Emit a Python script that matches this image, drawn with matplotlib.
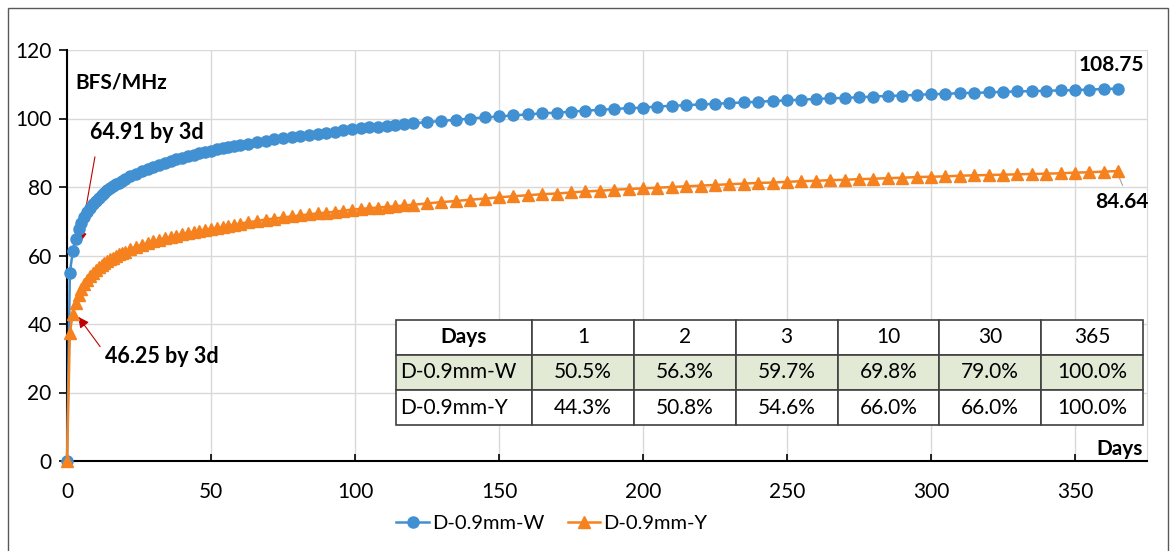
import matplotlib
matplotlib.use("Agg")
import matplotlib.pyplot as plt
from matplotlib.patches import Rectangle

plt.rcParams["font.family"] = ["Lato", "DejaVu Sans"]

# sampling days: daily to 20, every 2 to 60, every 3 to 120, every 5 to 365
days = list(range(0, 21)) + list(range(22, 61, 2)) + list(range(63, 121, 3)) + list(range(125, 366, 5))

bfs_w = [0, 55.0, 61.2, 64.9, 67.6, 69.6, 71.3, 72.7, 73.9, 75.0, 75.9,
         76.8, 77.6, 78.3, 79.0, 79.6, 80.2, 80.8, 81.3, 81.8, 82.3,
         83.1, 83.9, 84.6, 85.3, 85.9, 86.5, 87.1, 87.6, 88.1, 88.6,
         89.0, 89.4, 89.9, 90.2, 90.6, 91.0, 91.3, 91.6, 92.0, 92.3,
         92.7, 93.1, 93.5, 93.9, 94.3, 94.6, 95.0, 95.3, 95.6, 95.9,
         96.2, 96.5, 96.8, 97.1, 97.4, 97.6, 97.9, 98.1, 98.3, 98.6,
         98.95, 99.3, 99.6, 100.0, 100.3, 100.6, 100.9, 101.2, 101.5, 101.7,
         102.0, 102.3, 102.5, 102.8, 103.0, 103.2, 103.5, 103.7, 103.9, 104.1,
         104.3, 104.5, 104.7, 104.9, 105.1, 105.3, 105.5, 105.7, 105.9, 106.0,
         106.2, 106.4, 106.6, 106.7, 106.9, 107.1, 107.2, 107.4, 107.5, 107.6,
         107.8, 107.9, 108.0, 108.1, 108.2, 108.3, 108.45, 108.6, 108.75]

bfs_y = [0, 37.5, 43.0, 46.25, 48.5, 50.3, 51.7, 52.9, 53.9, 54.9, 55.7,
         56.5, 57.2, 57.8, 58.4, 58.9, 59.4, 59.9, 60.3, 60.7, 61.1,
         61.8, 62.5, 63.1, 63.6, 64.1, 64.6, 65.0, 65.4, 65.8, 66.2,
         66.5, 66.9, 67.2, 67.5, 67.8, 68.1, 68.3, 68.6, 68.9, 69.3,
         69.7, 70.1, 70.5, 70.8, 71.1, 71.4, 71.7, 72.0, 72.3, 72.5,
         72.8, 73.1, 73.4, 73.6, 73.8, 74.0, 74.2, 74.4, 74.6, 74.8,
         75.2, 75.6, 75.9, 76.3, 76.6, 77.0, 77.3, 77.6, 77.9, 78.1,
         78.4, 78.7, 78.9, 79.2, 79.4, 79.6, 79.8, 80.0, 80.2, 80.4,
         80.6, 80.8, 81.0, 81.2, 81.3, 81.5, 81.7, 81.8, 82.0, 82.1,
         82.3, 82.4, 82.6, 82.7, 82.9, 83.0, 83.1, 83.3, 83.4, 83.5,
         83.6, 83.7, 83.8, 83.9, 84.0, 84.2, 84.3, 84.5, 84.64]

series_names = ["D-0.9mm-W", "D-0.9mm-Y"]
table_days = ["Days", "1", "2", "3", "10", "30", "365"]
table_w = ["50.5%", "56.3%", "59.7%", "69.8%", "79.0%", "100.0%"]
table_y = ["44.3%", "50.8%", "54.6%", "66.0%", "66.0%", "100.0%"]

BLUE = "#4190d2"
ORANGE = "#f5821f"

fig = plt.figure(figsize=(11.72, 5.51), dpi=100)
ax = fig.add_axes([67 / 1172, 1 - 461 / 551, 1080 / 1172, 411 / 551])

ax.plot(days, bfs_w, color=BLUE, lw=1.8, marker="o", ms=8, label=series_names[0],
        clip_on=False, zorder=4)
ax.plot(days, bfs_y, color=ORANGE, lw=1.8, marker="^", ms=8.5, label=series_names[1],
        clip_on=False, zorder=4)

ax.set_xlim(0, 375)
ax.set_ylim(0, 120)
ax.set_xticks(range(0, 351, 50))
ax.set_yticks(range(0, 121, 20))
ax.grid(color="#d9d9d9", lw=1)
ax.set_axisbelow(True)
for s in ["left", "bottom"]:
    ax.spines[s].set_color("black")
    ax.spines[s].set_linewidth(1.5)
ax.spines["top"].set_visible(False)
ax.spines["right"].set_color("#d9d9d9")
ax.tick_params(axis="y", direction="out", length=6, width=1.2, labelsize=15, pad=5)
ax.tick_params(axis="x", direction="in", length=5, width=1.2, labelsize=15, pad=15)

# annotations
ax.text(2.8, 110.4, "BFS/MHz", fontsize=15, fontweight="bold", va="center", ha="left")
ax.text(8, 95.8, "64.91 by 3d", fontsize=15.5, fontweight="bold", va="center", ha="left")
ax.annotate("", xy=(4.4, 63.6), xytext=(9.7, 88.8),
            arrowprops=dict(arrowstyle="-|>", color="#c00000", lw=0.8, mutation_scale=16,
                            shrinkA=0, shrinkB=0))
ax.text(13.2, 30.5, "46.25 by 3d", fontsize=15.5, fontweight="bold", va="center", ha="left")
ax.annotate("", xy=(3.9, 42.1), xytext=(11.5, 33.4),
            arrowprops=dict(arrowstyle="-|>", color="#c00000", lw=0.8, mutation_scale=16,
                            shrinkA=0, shrinkB=0))
ax.text(374, 115.6, "108.75", fontsize=15, fontweight="bold", va="center", ha="right")
ax.plot([365, 366.5], [83.5, 80.5], color="#a6a6a6", lw=0.8, zorder=3)
ax.text(375.5, 75.7, "84.64", fontsize=15, fontweight="bold", va="center", ha="right",
        clip_on=False)
ax.text(373.5, 3.5, "Days", fontsize=15, fontweight="bold", va="center", ha="right")

# table
cells = [table_days, [series_names[0]] + table_w, [series_names[1]] + table_y]
col_w = [136] + [101.8] * 6
tot = sum(col_w)
tb = ax.table(cellText=cells, colWidths=[c / tot for c in col_w], cellLoc="center",
              bbox=[(396 - 67) / 1080, (461 - 425) / 411, 747 / 1080, 105 / 411])
tb.auto_set_font_size(False)
for (r, c), cell in tb.get_celld().items():
    cell.set_edgecolor("#404040")
    cell.set_linewidth(1.2)
    cell.get_text().set_fontsize(15)
    if r == 1:
        cell.set_facecolor("#e2ead6")
    if c == 0 and r > 0:
        cell.get_text().set_ha("left")
        cell.PAD = 0.03
    if r == 0 and c == 0:
        cell.get_text().set_fontweight("bold")
tb.set_zorder(5)

fig.legend(loc="center", bbox_to_anchor=(552 / 1172, 1 - 523 / 551), ncol=2, frameon=False,
           fontsize=14.5, handlelength=1.6, columnspacing=1.2, handletextpad=0.15)

fig.patches.append(Rectangle((8 / 1172, -0.01), 1160 / 1172, 1 - 8 / 551 + 0.01,
                             transform=fig.transFigure, fill=False, edgecolor="#595959", lw=1))

plt.savefig("out.png", dpi=100)
plt.close()
